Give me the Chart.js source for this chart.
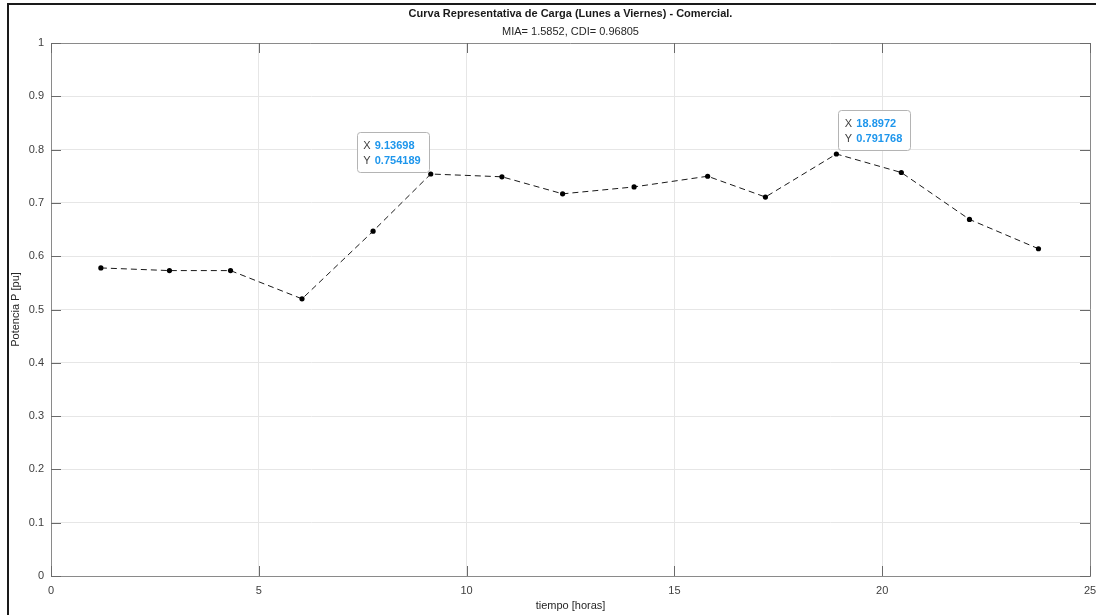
<!DOCTYPE html>
<html>
<head>
<meta charset="utf-8">
<script src="https://cdn.jsdelivr.net/npm/chart.js@4.4.1/dist/chart.umd.min.js"></script>
<style>
  html, body { margin: 0; padding: 0; background: #fff; }
  #wrap { position: relative; width: 1096px; height: 615px; }
  #frameL { position: absolute; left: 7px; top: 3px; width: 2px; height: 612px; background: #1a1a1a; }
  #frameT { position: absolute; left: 7px; top: 3px; width: 1089px; height: 2px; background: #1a1a1a; }
  canvas { position: absolute; left: 0; top: 0; }
</style>
</head>
<body>
<div id="wrap">
  <canvas id="c" width="1096" height="615"></canvas>
  <div id="frameL"></div>
  <div id="frameT"></div>
</div>
<script>
// Hourly sample times and per-unit power of the weekday commercial load curve
const hours = [1.20, 2.85, 4.32, 6.04, 7.75, 9.13698, 10.85, 12.31, 14.03, 15.80, 17.19, 18.8972, 20.46, 22.10, 23.76];
const power = [0.578, 0.573, 0.573, 0.520, 0.647, 0.754189, 0.749, 0.717, 0.730, 0.750, 0.711, 0.791768, 0.757, 0.669, 0.614];

// Axis ticks
const xTicks = [0, 5, 10, 15, 20, 25];
const yTicks = [0, 0.1, 0.2, 0.3, 0.4, 0.5, 0.6, 0.7, 0.8, 0.9, 1];

// Points carrying a data tip
const tipPoints = [5, 11];

// Texts
const titleText = 'Curva Representativa de Carga (Lunes a Viernes) - Comercial.';
const subtitleText = 'MIA= 1.5852, CDI= 0.96805';
const xTitle = 'tiempo [horas]';
const yTitle = 'Potencia P [pu]';

const FONT = '"Liberation Sans", Arial, Helvetica, sans-serif';
const AXIS_COLOR = '#8a8a8a';
const TEXT_COLOR = '#404040';

const points = hours.map((h, i) => ({ x: h, y: power[i] }));

// Inward ticks, box edges, titles and data tips
const decorations = {
  id: 'decorations',
  afterDraw(chart) {
    const { ctx, chartArea: a, scales } = chart;
    const xs = scales.x, ys = scales.y;
    ctx.save();

    // box top/right
    ctx.strokeStyle = AXIS_COLOR;
    ctx.lineWidth = 1;
    ctx.beginPath();
    ctx.moveTo(a.left, Math.round(a.top) + 0.5);
    ctx.lineTo(a.right, Math.round(a.top) + 0.5);
    ctx.moveTo(Math.round(a.right) + 0.5, a.top);
    ctx.lineTo(Math.round(a.right) + 0.5, a.bottom);
    ctx.stroke();

    // inward tick marks
    ctx.strokeStyle = '#6a6a6a';
    ctx.beginPath();
    xTicks.forEach(v => {
      const px = Math.round(xs.getPixelForValue(v)) + 0.5;
      ctx.moveTo(px, a.bottom); ctx.lineTo(px, a.bottom - 10);
      ctx.moveTo(px, a.top); ctx.lineTo(px, a.top + 10);
    });
    yTicks.forEach(v => {
      const py = Math.round(ys.getPixelForValue(v)) + 0.5;
      ctx.moveTo(a.left, py); ctx.lineTo(a.left + 10, py);
      ctx.moveTo(a.right, py); ctx.lineTo(a.right - 10, py);
    });
    ctx.stroke();

    const cx = (a.left + a.right) / 2;
    ctx.fillStyle = '#1a1a1a';
    ctx.textAlign = 'center';
    ctx.textBaseline = 'middle';
    ctx.font = 'bold 11px ' + FONT;
    ctx.fillText(titleText, cx, 14);
    ctx.font = '11px ' + FONT;
    ctx.fillStyle = '#262626';
    ctx.fillText(subtitleText, cx, 32);

    ctx.fillStyle = '#262626';
    ctx.fillText(xTitle, cx, 606);
    ctx.save();
    ctx.translate(16, (a.top + a.bottom) / 2);
    ctx.rotate(-Math.PI / 2);
    ctx.fillText(yTitle, 0, 0);
    ctx.restore();

    // data tips
    tipPoints.forEach((idx, k) => {
      const px = xs.getPixelForValue(hours[idx]);
      const py = ys.getPixelForValue(power[idx]);
      const w = 72, h = 40;
      const bx = k === 0 ? px - 2 - w : px + 2;
      const by = k === 0 ? py - 2 - h : py - 4 - h;
      ctx.fillStyle = 'rgba(255,255,255,0.92)';
      ctx.strokeStyle = '#b4b4b4';
      ctx.lineWidth = 1;
      ctx.beginPath();
      ctx.roundRect(Math.round(bx) + 0.5, Math.round(by) + 0.5, w, h, 3);
      ctx.fill();
      ctx.stroke();
      ctx.textAlign = 'left';
      ctx.textBaseline = 'middle';
      const rows = [['X', String(hours[idx])], ['Y', String(power[idx])]];
      rows.forEach((r, j) => {
        const ty = by + 14 + j * 15;
        ctx.font = '11px ' + FONT;
        ctx.fillStyle = '#404040';
        ctx.fillText(r[0], bx + 6.5, ty);
        ctx.font = 'bold 11px ' + FONT;
        ctx.fillStyle = '#1e96ec';
        ctx.fillText(r[1], bx + 18, ty);
      });
    });
    ctx.restore();
  }
};

new Chart(document.getElementById('c'), {
  type: 'scatter',
  data: {
    datasets: [{
      data: points,
      showLine: true,
      borderColor: '#1a1a1a',
      borderWidth: 1,
      borderDash: [6, 4],
      pointRadius: 2.6,
      pointBackgroundColor: '#000',
      pointBorderColor: '#000',
      pointBorderWidth: 0,
      tension: 0
    }]
  },
  options: {
    responsive: false,
    animation: false,
    events: [],
    layout: { padding: { top: 43, right: 6, left: 0, bottom: 0 } },
    plugins: { legend: { display: false }, tooltip: { enabled: false } },
    scales: {
      x: {
        type: 'linear', min: 0, max: 25,
        afterFit(s) { s.height = 39; s.paddingLeft = 0; s.paddingRight = 0; },
        afterBuildTicks(s) { s.ticks = xTicks.map(v => ({ value: v })); },
        grid: { color: '#e6e6e6', drawTicks: false, lineWidth: 1 },
        border: { color: AXIS_COLOR, width: 1 },
        ticks: { padding: 8, color: TEXT_COLOR, font: { family: FONT, size: 11 }, callback: v => String(v) }
      },
      y: {
        type: 'linear', min: 0, max: 1,
        afterFit(s) { s.width = 51; s.paddingTop = 0; s.paddingBottom = 0; },
        afterBuildTicks(s) { s.ticks = yTicks.map(v => ({ value: v })); },
        grid: { color: '#e6e6e6', drawTicks: false, lineWidth: 1 },
        border: { color: AXIS_COLOR, width: 1 },
        ticks: { padding: 7, color: TEXT_COLOR, font: { family: FONT, size: 11 }, callback: v => String(v) }
      }
    }
  },
  plugins: [decorations]
});
</script>
</body>
</html>
